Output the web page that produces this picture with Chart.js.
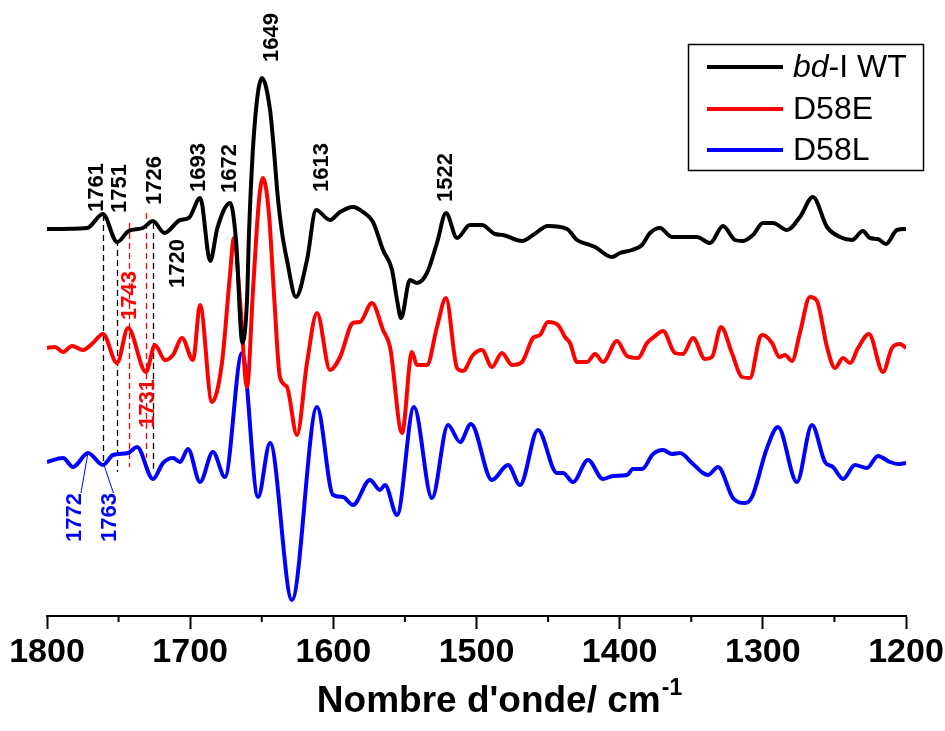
<!DOCTYPE html>
<html>
<head>
<meta charset="utf-8">
<script src="https://cdn.jsdelivr.net/npm/chart.js@4.4.1/dist/chart.umd.min.js"></script>
<style>
  html, body { margin: 0; padding: 0; background: #fff; }
  #wrap { width: 945px; height: 731px; }
</style>
</head>
<body>
<div id="wrap"><canvas id="ftir" width="945" height="731"></canvas></div>
<script>
// Difference spectra (offset for display), wavenumber in cm-1
const wnWT = [1800, 1772, 1761, 1751, 1743, 1733, 1726, 1718, 1707, 1701, 1693, 1686, 1681, 1672, 1668,
  1663.5, 1660.3, 1658.9, 1655.4, 1649.8, 1644.2, 1642.1, 1638.6, 1635.8, 1632.4, 1626.1, 1618.4, 1612.1,
  1602.3, 1595.3, 1586.3, 1579.3, 1572.3, 1565.3, 1559, 1555.5, 1552.7, 1546.5, 1541.6, 1534.6, 1527.6,
  1521.3, 1513.6, 1504.6, 1496.2, 1487.1, 1481.5, 1468.2, 1460.5, 1450.1, 1436.8, 1429.8, 1420.7, 1417.2,
  1405.4, 1399.8, 1391.4, 1384.4, 1378.8, 1371.8, 1363.5, 1346, 1336.9, 1327.8, 1319.5, 1313.9, 1306.9,
  1299.9, 1292.9, 1283.1, 1274.1, 1265, 1255.2, 1246.1, 1237.7, 1230.1, 1225.2, 1219.6, 1214, 1206.3, 1200];
const absWT = [3.87, 3.88, 4.02, 3.74, 3.85, 3.88, 3.95, 3.83, 3.96, 3.98, 4.18, 3.55, 3.88, 4.13, 3.76,
  2.73, 3.16, 3.83, 4.83, 5.38, 5.06, 4.76, 4.16, 3.83, 3.56, 3.19, 3.56, 4.06,
  3.96, 4.04, 4.09, 4.04, 3.94, 3.66, 3.46, 3.16, 2.98, 3.36, 3.33, 3.43, 3.73,
  4.03, 3.78, 3.91, 3.91, 3.82, 3.81, 3.75, 3.81, 3.90, 3.87, 3.76, 3.71, 3.69,
  3.59, 3.63, 3.66, 3.71, 3.83, 3.88, 3.79, 3.79, 3.73, 3.90, 3.76, 3.75, 3.81,
  3.93, 3.93, 3.86, 3.99, 4.19, 3.89, 3.79, 3.76, 3.85, 3.78, 3.77, 3.72, 3.86, 3.87];

const wnE = [1800, 1794.4, 1788.8, 1782.5, 1774.9, 1767.9, 1760.9, 1751.1, 1743.4, 1730.9, 1724.6, 1717.6,
  1712, 1705.7, 1698, 1693.1, 1684.8, 1677.8, 1672.5, 1669.4, 1665.2, 1660.3, 1656.1, 1651.9, 1649.1,
  1644.9, 1641.4, 1637.3, 1632.4, 1625.4, 1618.4, 1611.4, 1602.3, 1595.3, 1586.3, 1581.4, 1573, 1565.3,
  1560.4, 1552, 1545.1, 1541.6, 1534.6, 1527.6, 1521.3, 1513.6, 1509.4, 1502.5, 1496.2, 1489.2, 1482.2,
  1475.2, 1468.2, 1460.5, 1455.7, 1450.1, 1443.1, 1438.2, 1434.7, 1429.8, 1422.8, 1417.2, 1411.6, 1401.9,
  1394.9, 1387.2, 1380.9, 1375.3, 1369.7, 1361.4, 1355.8, 1348.8, 1340.4, 1335.5, 1329.2, 1321.6, 1314.6,
  1309, 1302, 1299.9, 1293.6, 1288.4, 1284.5, 1279.6, 1274.1, 1267.1, 1262.2, 1255.2, 1249.6, 1244,
  1239.1, 1233.5, 1225.9, 1216.1, 1209.8, 1204.2, 1200];
const absE = [2.68, 2.69, 2.64, 2.70, 2.66, 2.73, 2.82, 2.53, 2.88, 2.44, 2.71, 2.56,
  2.61, 2.78, 2.56, 3.11, 2.14, 2.53, 3.36, 3.78, 3.16, 2.29, 3.26, 4.16, 4.38,
  4.01, 3.21, 2.39, 2.29, 1.81, 2.53, 3.03, 2.46, 2.59, 2.93, 2.94, 3.13, 2.86,
  2.69, 1.83, 2.64, 2.51, 2.51, 2.89, 3.18, 2.48, 2.45, 2.61, 2.66, 2.49, 2.63,
  2.51, 2.54, 2.78, 2.81, 2.94, 2.91, 2.79, 2.73, 2.54, 2.54, 2.62, 2.54, 2.75,
  2.60, 2.58, 2.73, 2.80, 2.85, 2.63, 2.62, 2.78, 2.57, 2.59, 2.89, 2.63, 2.39,
  2.38, 2.79, 2.81, 2.73, 2.59, 2.61, 2.55, 2.83, 3.19, 3.15, 2.69, 2.48, 2.58,
  2.53, 2.68, 2.82, 2.44, 2.68, 2.72, 2.68];

const wnL = [1800, 1788.8, 1781.8, 1771.4, 1760.9, 1753.9, 1743.4, 1737.1, 1726, 1719, 1712, 1707.1,
  1701.5, 1693.1, 1684.1, 1675.7, 1663.8, 1652.6, 1644.2, 1628.9, 1611.4, 1600.2, 1593.3, 1586.3, 1574.4,
  1567.4, 1563.9, 1555.5, 1543.7, 1531.1, 1519.9, 1511.5, 1503.9, 1489.2, 1478, 1469.6, 1457.1, 1443.8,
  1439.6, 1432.6, 1422.1, 1411.7, 1404.7, 1394.9, 1390.7, 1384.4, 1376.7, 1369.7, 1363.5, 1357.9, 1349.5,
  1341.8, 1338.3, 1331.3, 1320.9, 1312.5, 1307.6, 1297.1, 1289.4, 1276.2, 1265.7, 1256.6, 1251, 1244,
  1235.6, 1227.3, 1219.6, 1211.2, 1205.6, 1200];
const absL = [1.54, 1.58, 1.49, 1.63, 1.51, 1.61, 1.63, 1.69, 1.37, 1.53, 1.58, 1.54,
  1.67, 1.34, 1.64, 1.39, 2.63, 1.19, 1.73, 0.16, 2.09, 1.21, 1.19, 1.11, 1.36,
  1.26, 1.31, 1.01, 2.09, 1.18, 1.91, 1.74, 1.92, 1.36, 1.51, 1.31, 1.86, 1.43,
  1.43, 1.34, 1.56, 1.37, 1.40, 1.41, 1.47, 1.47, 1.62, 1.66, 1.62, 1.63, 1.53,
  1.43, 1.41, 1.49, 1.18, 1.13, 1.19, 1.68, 1.89, 1.34, 1.91, 1.54, 1.49, 1.37,
  1.51, 1.48, 1.60, 1.54, 1.52, 1.53];

const xTicks = [1800, 1700, 1600, 1500, 1400, 1300, 1200];
const seriesNames = ['bd-I WT', 'D58E', 'D58L'];
const seriesColors = ['#000000', '#ff0000', '#0000ff'];

// peak assignments: wavenumber, text, which spectrum
const peakWn = [1761, 1751, 1726, 1693, 1672, 1649, 1613, 1522, 1720, 1743, 1731, 1772, 1763];
const peakSeries = [0, 0, 0, 0, 0, 0, 0, 0, 0, 1, 1, 2, 2];

// where each peak label sits: horizontal nudge (px) and the level its text starts from
const labelPlace = [
  { dx: -6, at: 4.04 }, { dx: 3, at: 4.03 }, { dx: 2, at: 4.11 }, { dx: -1, at: 4.24 },
  { dx: 0, at: 4.23 }, { dx: 9, at: 5.54 }, { dx: 7, at: 4.24 }, { dx: 1, at: 4.14 },
  { dx: 16, at: 3.28 }, { dx: 1, at: 2.96 }, { dx: 2, at: 1.88 }, { dx: -12, at: 0.74 },
  { dx: 10, at: 0.74 }
];
// dashed guides: wavenumber, colour index, top and bottom level
const guideWn = [1761, 1751, 1726, 1743, 1731];
const guideSeries = [0, 0, 0, 1, 1];
const guideSpan = [[4.01, 1.53], [3.76, 1.44], [3.93, 1.43], [3.93, 1.49], [4.03, 1.58]];
// thin leaders from the D58L trace to its labels
const leaders = [
  { from: [1771.4, 1.63], to: [1776.3, 1.23] },
  { from: [1760.2, 1.51], to: [1753.6, 1.23] }
];

const FONT = '"Liberation Sans", Arial, sans-serif';

function toPoints(wn, ab) {
  return wn.map((w, i) => ({ x: w, y: ab[i] }));
}

function vText(ctx, str, cx, y0, color) {
  ctx.save();
  ctx.translate(cx, y0);
  ctx.rotate(-Math.PI / 2);
  ctx.font = 'bold 22px ' + FONT;
  ctx.fillStyle = color;
  ctx.textAlign = 'left';
  ctx.textBaseline = 'middle';
  ctx.fillText(str, 0, 0);
  ctx.restore();
}

const guides = {
  id: 'guides',
  beforeDatasetsDraw(chart) {
    const { ctx, scales: { x, y } } = chart;
    ctx.save();
    ctx.lineWidth = 1.3;
    ctx.setLineDash([6, 4]);
    guideWn.forEach((w, i) => {
      const px = Math.round(x.getPixelForValue(w)) + 0.5;
      ctx.strokeStyle = seriesColors[guideSeries[i]];
      ctx.beginPath();
      ctx.moveTo(px, y.getPixelForValue(guideSpan[i][0]));
      ctx.lineTo(px, y.getPixelForValue(guideSpan[i][1]));
      ctx.stroke();
    });
    ctx.restore();
  },
  afterDraw(chart) {
    const { ctx, scales: { x, y }, chartArea } = chart;

    // minor ticks every 50 cm-1
    ctx.save();
    ctx.strokeStyle = '#000';
    ctx.lineWidth = 2;
    for (let w = 1750; w > 1200; w -= 100) {
      const px = x.getPixelForValue(w);
      ctx.beginPath();
      ctx.moveTo(px, chartArea.bottom);
      ctx.lineTo(px, chartArea.bottom + 6);
      ctx.stroke();
    }
    ctx.restore();

    // leader lines
    ctx.save();
    ctx.strokeStyle = seriesColors[2];
    ctx.lineWidth = 1;
    leaders.forEach(l => {
      ctx.beginPath();
      ctx.moveTo(x.getPixelForValue(l.from[0]), y.getPixelForValue(l.from[1]));
      ctx.lineTo(x.getPixelForValue(l.to[0]), y.getPixelForValue(l.to[1]));
      ctx.stroke();
    });
    ctx.restore();

    // peak labels
    peakWn.forEach((w, i) => {
      const p = labelPlace[i];
      vText(ctx, String(w), x.getPixelForValue(w) + p.dx, y.getPixelForValue(p.at), seriesColors[peakSeries[i]]);
    });

    // axis title with superscript
    ctx.save();
    ctx.fillStyle = '#000';
    ctx.textBaseline = 'alphabetic';
    ctx.textAlign = 'left';
    ctx.font = 'bold 37px ' + FONT;
    const main = "Nombre d'onde/ cm";
    const wMain = ctx.measureText(main).width;
    ctx.font = 'bold 23px ' + FONT;
    const wSup = ctx.measureText('-1').width;
    const tx = 499 - (wMain + wSup) / 2;
    ctx.font = 'bold 37px ' + FONT;
    ctx.fillText(main, tx, 712);
    ctx.font = 'bold 23px ' + FONT;
    ctx.fillText('-1', tx + wMain + 1, 695);
    ctx.restore();

    // legend box
    ctx.save();
    ctx.strokeStyle = '#000';
    ctx.lineWidth = 1.5;
    ctx.strokeRect(688.5, 44.5, 235, 126);
    const rows = [67, 109, 150];
    rows.forEach((ry, i) => {
      ctx.strokeStyle = seriesColors[i];
      ctx.lineWidth = 4;
      ctx.beginPath();
      ctx.moveTo(707, ry);
      ctx.lineTo(783, ry);
      ctx.stroke();
      ctx.fillStyle = '#000';
      ctx.textBaseline = 'middle';
      let tx2 = 793;
      if (i === 0) {
        ctx.font = 'italic 32px ' + FONT;
        ctx.fillText('bd', tx2, ry + 1);
        tx2 += ctx.measureText('bd').width;
        ctx.font = '32px ' + FONT;
        ctx.fillText('-I WT', tx2, ry + 1);
      } else {
        ctx.font = '32px ' + FONT;
        ctx.fillText(seriesNames[i], tx2, ry + 1);
      }
    });
    ctx.restore();
  }
};

const datasets = [toPoints(wnWT, absWT), toPoints(wnE, absE), toPoints(wnL, absL)].map((pts, i) => ({
  label: seriesNames[i],
  data: pts,
  borderColor: seriesColors[i],
  borderWidth: 4,
  pointRadius: 0,
  fill: false,
  cubicInterpolationMode: 'monotone'
}));

new Chart(document.getElementById('ftir'), {
  type: 'line',
  data: { datasets: datasets },
  options: {
    responsive: false,
    animation: false,
    events: [],
    layout: { padding: { left: 47, right: 39, top: 20, bottom: 0 } },
    plugins: { legend: { display: false }, tooltip: { enabled: false } },
    scales: {
      x: {
        type: 'linear',
        reverse: true,
        min: 1200,
        max: 1800,
        afterBuildTicks: (scale) => { scale.ticks = xTicks.map(v => ({ value: v })); },
        afterFit: (scale) => {
          scale.height = 115;
          // labels fit inside the outer padding already
          scale.paddingLeft = 0;
          scale.paddingRight = 0;
        },
        border: { display: true, color: '#000', width: 2 },
        grid: { drawOnChartArea: false, drawTicks: true, tickLength: 13, tickColor: '#000', tickWidth: 2 },
        ticks: {
          color: '#000',
          padding: 3,
          maxRotation: 0,
          callback: (v) => String(v),
          font: { family: FONT, size: 34, weight: 'bold' }
        }
      },
      y: { display: false, min: 0, max: 5.96 }
    }
  },
  plugins: [guides]
});
</script>
</body>
</html>
